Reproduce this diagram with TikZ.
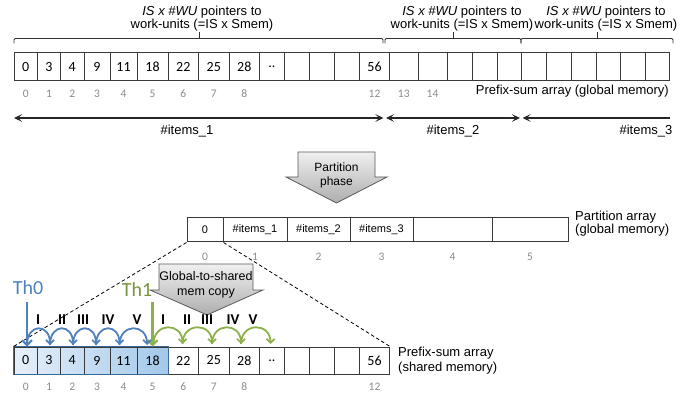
\documentclass[tikz,border=0pt]{standalone}
\usepackage{fontspec}
\setmainfont{Liberation Sans}
\newfontfamily\calfont{Carlito}
\usetikzlibrary{arrows.meta}
\definecolor{idxgray}{HTML}{8C8C8C}
\definecolor{cellborder}{HTML}{3A3A3A}
\definecolor{thblue}{HTML}{4F81BD}
\definecolor{thgreen}{HTML}{8DB04A}
\definecolor{thgreentext}{HTML}{77933C}
\definecolor{shadeL}{HTML}{E6F0FA}
\definecolor{shadeR}{HTML}{A3C8EA}
\definecolor{groupborder}{HTML}{3C6896}
\definecolor{arrowborder}{HTML}{5A5A5A}
\newcommand\mkcell[7]{% style, name, left, right, top, bottom, text
  \pgfmathsetmacro\cw{#4-#3}\pgfmathsetmacro\ch{#6-#5}%
  \node[#1, minimum width=\cw pt, minimum height=\ch pt] (#2) at ({(#3+#4)/2},{(#5+#6)/2}) {#7};}
\tikzset{
  cellbox/.style={draw=cellborder, line width=1pt, inner sep=0pt, font=\calfont\fontsize{14}{14}\selectfont},
  pcell/.style={draw=cellborder, line width=1pt, inner sep=0pt, font=\fontsize{11}{11}\selectfont},
  idx/.style={text=idxgray, inner sep=0pt, font=\calfont\fontsize{11.5}{11.5}\selectfont},
  lbl/.style={inner sep=0pt, align=center, font=\fontsize{13}{13}\selectfont},
  lbll/.style={inner sep=0pt, align=left, font=\fontsize{13}{13}\selectfont},
  bracket/.style={line width=0.9pt, draw=black!80, rounded corners=1.2pt},
  spantip/.tip={Stealth[length=8pt,width=7.5pt,inset=3.5pt]},
  span/.style={line width=1.2pt, draw=black!85, spantip-spantip},
  spanl/.style={line width=1.2pt, draw=black!85, spantip-},
  blockarrow/.style={draw=arrowborder, line width=0.8pt, top color=black!6, bottom color=black!32},
  thlabel/.style={inner sep=0pt, font=\calfont\fontsize{20}{20}\selectfont},
  vert/.style={line width=2.2pt, -{Straight Barb[length=5pt,width=10pt,line width=2pt]}},
  jump/.style={line width=1.8pt, -{Straight Barb[length=4pt,width=8pt,line width=1.6pt]}},
  numeral/.style={inner sep=0pt, font=\calfont\bfseries\fontsize{15}{15}\selectfont},
  zoomline/.style={dashed, line width=0.8pt, dash pattern=on 3.5pt off 2.5pt}
}
\begin{document}
\begin{tikzpicture}[x=1pt, y=-1pt]
\useasboundingbox (0,0) rectangle (699,398);
\fill[white] (0,0) rectangle (699,398);

% ---- top texts and brackets ----
\node[lbl] (txt1) at (202,19) {\textit{IS x \#WU} pointers to\\work-units (=IS x Smem)};
\node[lbl] (txt2) at (462,19) {\textit{IS x \#WU} pointers to\\work-units (=IS x Smem)};
\node[lbl] (txt3) at (606,19) {\textit{IS x \#WU} pointers to\\work-units (=IS x Smem)};
\draw[bracket] (14,43.5) -- (14,38.5) -- (383,38.5) -- (383,43.5);
\draw[line width=0.9pt, black!80] (199,38.5) -- (199,32);
\draw[bracket] (385,43.5) -- (385,38.5) -- (521,38.5) -- (521,43.5);
\draw[line width=0.9pt, black!80] (453,38.5) -- (453,32);
\draw[bracket] (521,43.5) -- (521,38.5) -- (673,38.5) -- (673,43.5);
\draw[line width=0.9pt, black!80] (597,38.5) -- (597,32);

% ---- top prefix-sum array ----
\foreach \n/\l/\r/\t in {0/14/37.5/0, 1/37.5/60.5/3, 2/60.5/84/4, 3/84/110/9, 4/110/137/11,
  5/137/168/18, 6/168/198.5/22, 7/198.5/229/25, 8/229/259.5/28, 9/259.5/284.5/..,
  10/284.5/309.5/{}, 11/309.5/334.5/{}, 12/334.5/359.5/{}, 13/359.5/389.5/56,
  14/389.5/418/{}, 15/418/447/{}, 16/447/472/{}, 17/472/497/{}, 18/497/521/{},
  19/521/546/{}, 20/546/571/{}, 21/571/596/{}, 22/596/620/{}, 23/620/645/{}, 24/645/669/{}}
  {\mkcell{cellbox}{t\n}{\l}{\r}{53}{81}{\t}}
\foreach \c/\i in {0/0,1/1,2/2,3/3,4/4,5/5,6/6,7/7,8/8,13/12,14/13,15/14}
  \node[idx] (ti\c) at ([yshift=-27pt]t\c.center) {\i};
\node[lbl, anchor=east] (glab) at (669,91) {Prefix-sum array (global memory)};

% ---- item spans ----
\coordinate (a1l) at (14,118); \coordinate (a1r) at (383.5,118);
\coordinate (a2l) at (386,118); \coordinate (a2r) at (520,118);
\coordinate (a3l) at (522.5,118); \coordinate (a3r) at (670,118);
\draw[span] (a1l) -- (a1r);
\draw[span] (a2l) -- (a2r);
\draw[spanl] (a3l) -- (a3r);
\node[lbl] (it1) at (187,131) {\#items\_1};
\node[lbl] (it2) at (453,131) {\#items\_2};
\node[lbl] (it3) at (646,131) {\#items\_3};

% ---- partition phase block arrow ----
\draw[blockarrow] (298,152) -- (375,152) -- (375,177) -- (387,177) -- (336.5,203) -- (286,177) -- (298,177) -- cycle;
\node[lbl, font=\fontsize{12}{14}\selectfont] (pphase) at (336.5,175) {Partition\\phase};

% ---- partition array ----
\foreach \n/\l/\r/\t in {0/187/223/0, 1/223/287/\#items\_1, 2/287/350/\#items\_2, 3/350/413/\#items\_3, 4/413/492/{}, 5/492/568/{}}
  {\mkcell{pcell}{p\n}{\l}{\r}{218}{242}{\t}}
\foreach \c in {0,...,5}
  \node[idx] (pi\c) at ([yshift=-27pt]p\c.center) {\c};
\node[lbll, font=\fontsize{13}{12.5}\selectfont, anchor=west] (plab) at (575,223.5) {Partition array\\(global memory)};

% ---- shared array ----
\fill[left color=shadeL, right color=shadeR] (14,347) rectangle (168,374);
\foreach \n/\l/\r/\t in {0/14/37.5/0, 1/37.5/60.5/3, 2/60.5/84/4, 3/84/110/9, 4/110/137/11,
  5/137/168/18, 6/168/198.5/22, 7/198.5/229/25, 8/229/259.5/28, 9/259.5/284.5/..,
  10/284.5/309.5/{}, 11/309.5/334.5/{}, 12/334.5/359.5/{}, 13/359.5/389.5/56}
  {\mkcell{cellbox}{s\n}{\l}{\r}{347}{374}{\t}}
\draw[groupborder, line width=1pt] (s0.north west) rectangle (s5.south east);
\foreach \c/\i in {0/0,1/1,2/2,3/3,4/4,5/5,6/6,7/7,8/8,13/12}
  \node[idx] (si\c) at ([yshift=-26.5pt]s\c.center) {\i};
\node[lbll, font=\fontsize{13}{15}\selectfont, anchor=west] (slab) at (398,360.5) {Prefix-sum array\\(shared memory)};

% ---- zoom lines ----
\draw[zoomline] (p0.south west) -- (s0.north west);
\draw[zoomline] (p0.south east) -- (s13.north east);

% ---- global-to-shared block arrow ----
\draw[blockarrow] (159,264) -- (253,264) -- (253,290) -- (263,290) -- (207,315) -- (150,290) -- (159,290) -- cycle;
\node[lbl, font=\fontsize{12.5}{15}\selectfont] (gcopy) at (206,284.5) {Global-to-shared\\mem copy};

% ---- threads ----
\node[thlabel, text=thblue] (th0) at (28,288) {Th0};
\node[thlabel, text=thgreentext] (th1) at (137,290) {Th1};
\coordinate (v0) at (27,302);
\coordinate (v1) at (152.5,302);
\draw[vert, thblue] (v0) -- (v0 |- s0.north);
\draw[vert, thgreen] (v1) -- (v1 |- s5.north);

% ---- jumps ----
\foreach \n/\x in {0/27, 1/50, 2/73, 3/96, 4/119.5, 5/147}
  \coordinate (b\n) at (\x,345);
\foreach \a/\b in {0/1, 1/2, 2/3, 3/4, 4/5}
  \draw[jump, thblue] (b\a) .. controls +(0,-22) and +(0,-22) .. (b\b);
\foreach \n/\x in {0/153.5, 1/182.5, 2/212, 3/241, 4/270.5}
  \coordinate (g\n) at (\x,344);
\foreach \a/\b in {0/1, 1/2, 2/3, 3/4}
  \draw[jump, thgreen] (g\a) .. controls +(0,-22) and +(0,-22) .. (g\b);

% ---- numerals ----
\foreach \x/\t in {38/I, 62/II, 83/III, 108/IV, 137/V, 163/I, 187/II, 207/III, 233/IV, 253/V}
  \node[numeral] at (\x,320) {\t};
\end{tikzpicture}
\end{document}
